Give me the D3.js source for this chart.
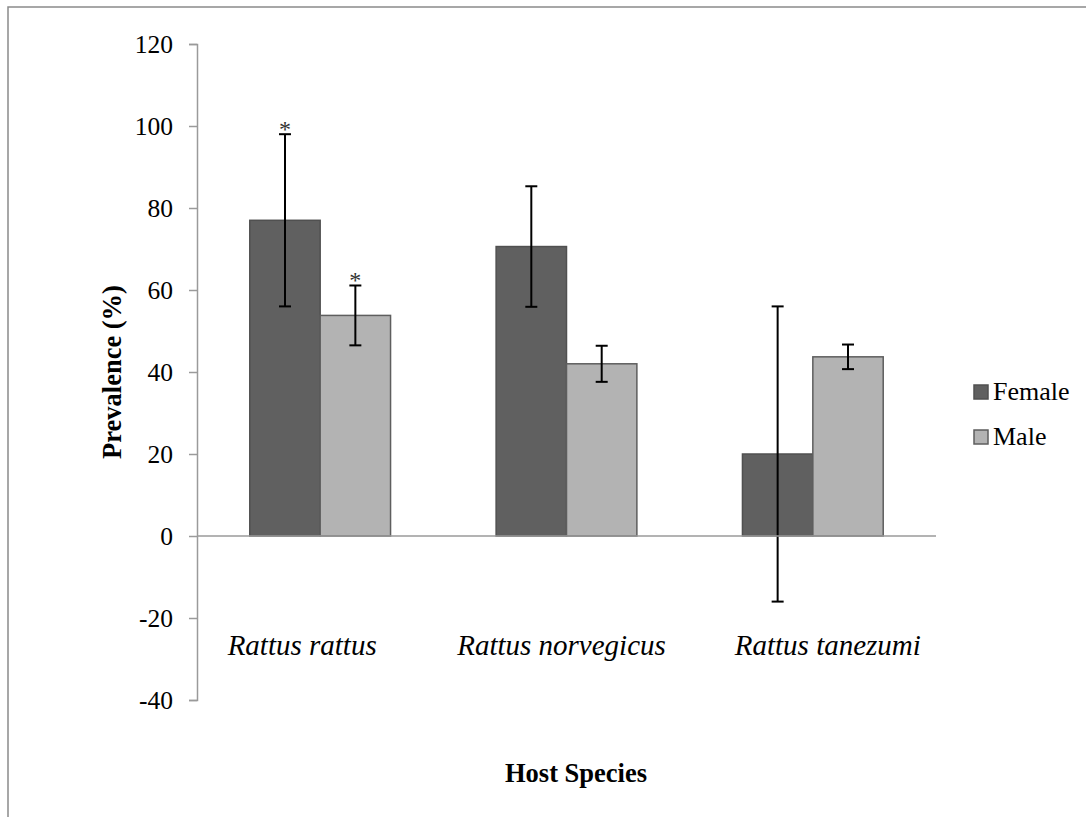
<!DOCTYPE html>
<html>
<head>
<meta charset="utf-8">
<script src="https://cdn.jsdelivr.net/npm/d3@7"></script>
<style>
  body { margin: 0; background: #fff; }
</style>
</head>
<body>
<div id="chart"></div>
<script>
// values
const categories = ["Rattus rattus", "Rattus norvegicus", "Rattus tanezumi"]
const series = ["Female", "Male"]
const female = [77, 70.6, 20]
const femaleErr = [21, 14.7, 36]
const male = [53.8, 42, 43.7]
const maleErr = [7.3, 4.4, 3]
// asterisks above the error bars
const femaleStar = [true, false, false]
const maleStar = [true, false, false]
const yTicks = [-40, -20, 0, 20, 40, 60, 80, 100, 120]

const W = 1086, H = 817
const PLOT = { LEFT: 197, RIGHT: 936, TOP: 44, BOTTOM: 700 }
const COLORS = { Female: "#606060", Male: "#b3b3b3" }
const STROKES = { Female: "#505050", Male: "#5e5e5e" }
// the category labels are not quite centred under their groups in the original
const LABEL_SHIFT = [-18, -5, 15]
const SERIF = "'Liberation Serif', 'Times New Roman', serif"

const svg = d3.select("#chart")
    .append("svg")
    .attr("width", W)
    .attr("height", H)
    .style("font-family", SERIF)

// outer frame (only top and left edges show inside the window)
svg.append("rect")
    .attr("x", 8).attr("y", 7)
    .attr("width", W + 20).attr("height", H + 20)
    .attr("fill", "none")
    .attr("stroke", "#8a8a8a")
    .attr("stroke-width", 1.5)

const y = d3.scaleLinear()
    .domain([-40, 120])
    .range([PLOT.BOTTOM, PLOT.TOP])

const x0 = d3.scaleBand()
    .domain(categories)
    .range([PLOT.LEFT, PLOT.RIGHT])

//gap width 150% like excel: 2 bars + 1.5 bar of gap per category
const bw = x0.bandwidth()
const half = bw * 0.75 / 3.5
const x1 = d3.scaleBand()
    .domain(series)
    .range([half, bw - half])

const rows = categories.map((c, i) => ({
    cat: c,
    bars: [
        { s: "Female", v: female[i], e: femaleErr[i], star: femaleStar[i] },
        { s: "Male", v: male[i], e: maleErr[i], star: maleStar[i] }
    ]
}))

// y axis (plain hyphen for negatives, like the original)
const yAxis = d3.axisLeft(y)
    .tickValues(yTicks)
    .tickFormat(d => String(d))
    .tickSize(8)
    .tickPadding(16)
const gy = svg.append("g")
    .attr("transform", "translate(" + PLOT.LEFT + ",0)")
    .call(yAxis)
gy.select(".domain").attr("stroke", "#9a9a9a").attr("stroke-width", 1.5)
gy.selectAll(".tick line").attr("stroke", "#9a9a9a").attr("stroke-width", 1.5)
gy.selectAll(".tick text")
    .style("font-family", SERIF)
    .style("font-size", "25.5px")
    .attr("fill", "#000")

// bars
const groups = svg.selectAll(".cat")
    .data(rows)
    .enter().append("g")
    .attr("class", "cat")
    .attr("transform", d => "translate(" + x0(d.cat) + ",0)")

groups.selectAll("rect")
    .data(d => d.bars)
    .enter().append("rect")
    .attr("x", d => x1(d.s))
    .attr("y", d => y(Math.max(0, d.v)))
    .attr("width", x1.bandwidth())
    .attr("height", d => Math.abs(y(d.v) - y(0)))
    .attr("fill", d => COLORS[d.s])
    .attr("stroke", d => STROKES[d.s])
    .attr("stroke-width", 1.5)

// zero line drawn over the bar bottoms
svg.append("line")
    .attr("x1", PLOT.LEFT).attr("x2", PLOT.RIGHT)
    .attr("y1", y(0)).attr("y2", y(0))
    .attr("stroke", "#9a9a9a")
    .attr("stroke-width", 1.5)

// error bars
const err = groups.selectAll(".err")
    .data(d => d.bars)
    .enter().append("g")
    .attr("class", "err")
    .attr("transform", d => "translate(" + (x1(d.s) + x1.bandwidth() / 2) + ",0)")

err.append("line")
    .attr("x1", 0).attr("x2", 0)
    .attr("y1", d => y(d.v + d.e))
    .attr("y2", d => y(d.v - d.e))
    .attr("stroke", "#000").attr("stroke-width", 2)

err.selectAll(".cap")
    .data(d => [d.v + d.e, d.v - d.e])
    .enter().append("line")
    .attr("class", "cap")
    .attr("x1", -6).attr("x2", 6)
    .attr("y1", v => y(v)).attr("y2", v => y(v))
    .attr("stroke", "#000").attr("stroke-width", 2)

err.filter(d => d.star).append("text")
    .attr("y", d => y(d.v + d.e) + 3)
    .attr("text-anchor", "middle")
    .style("font-size", "24px")
    .attr("fill", "#333")
    .text("*")

// category labels
svg.selectAll(".catlabel")
    .data(categories)
    .enter().append("text")
    .attr("class", "catlabel")
    .attr("x", (d, i) => x0(d) + bw / 2 + LABEL_SHIFT[i])
    .attr("y", 655)
    .attr("text-anchor", "middle")
    .style("font-size", "29px")
    .style("font-style", "italic")
    .text(d => d)

// axis titles
svg.append("text")
    .attr("x", 576)
    .attr("y", 782)
    .attr("text-anchor", "middle")
    .style("font-size", "26.5px")
    .style("font-weight", "bold")
    .text("Host Species")

svg.append("text")
    .attr("transform", "translate(121," + 372 + ") rotate(-90)")
    .attr("text-anchor", "middle")
    .style("font-size", "26.5px")
    .style("font-weight", "bold")
    .text("Prevalence (%)")

// legend
const legend = svg.selectAll(".legend")
    .data(series)
    .enter().append("g")
    .attr("class", "legend")
    .attr("transform", (d, i) => "translate(974," + (385 + i * 45) + ")")

legend.append("rect")
    .attr("width", 14).attr("height", 14)
    .attr("fill", d => COLORS[d])
    .attr("stroke", d => STROKES[d])
    .attr("stroke-width", 1.5)

legend.append("text")
    .attr("x", 19)
    .attr("y", 15)
    .style("font-size", "26px")
    .text(d => d)
</script>
</body>
</html>
